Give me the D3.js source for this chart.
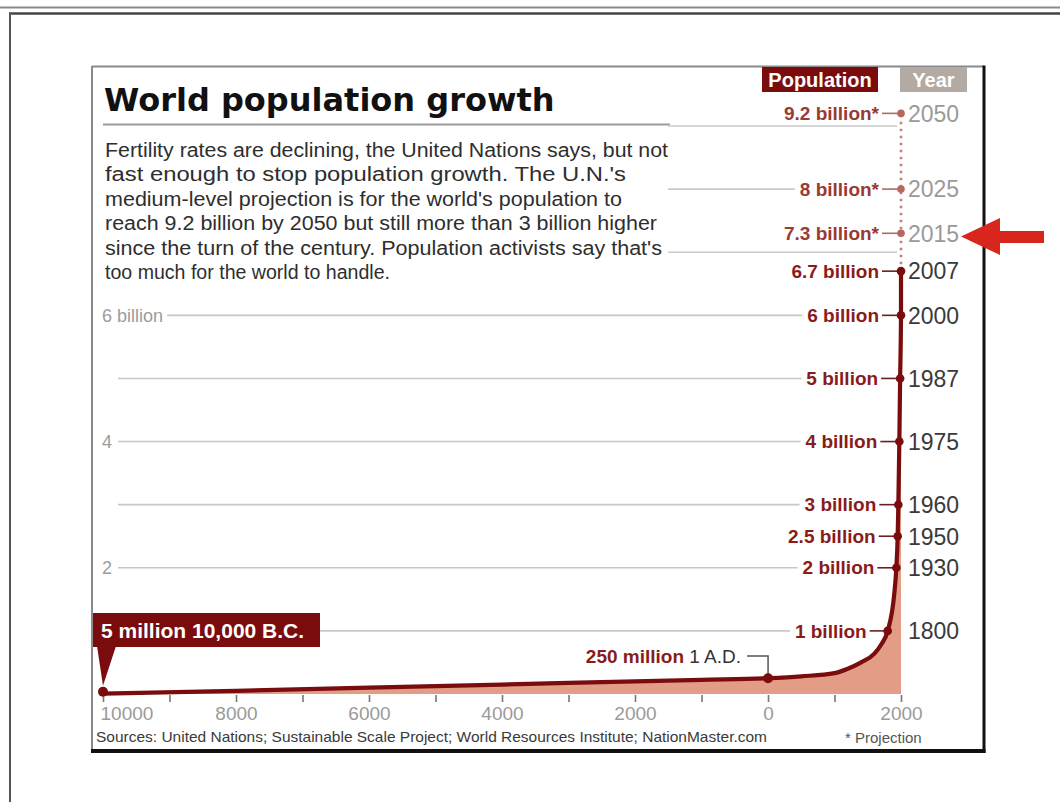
<!DOCTYPE html>
<html>
<head>
<meta charset="utf-8">
<script src="https://cdn.jsdelivr.net/npm/d3@7"></script>
<style>
  html, body { margin: 0; padding: 0; background: #fff; }
  svg { display: block; }
</style>
</head>
<body>
<svg id="chart" width="1060" height="802"></svg>
<script>
// ---------------- DATA ----------------
const curveYears = [-10000, -8000, -6000, -4000, -2000, -1000, 1, 500, 1000, 1200, 1400, 1600, 1700, 1800, 1900, 1930, 1950, 1960, 1975, 1987, 2000, 2007];
const curvePop   = [0.005, 0.05, 0.10, 0.15, 0.20, 0.225, 0.25, 0.28, 0.33, 0.40, 0.50, 0.64, 0.78, 1.0, 1.6, 2.0, 2.5, 3.0, 4.0, 5.0, 6.0, 6.7];

const projYears = [2007, 2015, 2025, 2050];
const projPop   = [6.7, 7.3, 8.0, 9.2];

const markYears  = [2050, 2025, 2015, 2007, 2000, 1987, 1975, 1960, 1950, 1930, 1800];
const markPop    = [9.2, 8, 7.3, 6.7, 6, 5, 4, 3, 2.5, 2, 1];
const markLabels = ["9.2 billion*", "8 billion*", "7.3 billion*", "6.7 billion", "6 billion", "5 billion", "4 billion", "3 billion", "2.5 billion", "2 billion", "1 billion"];

const gridValues = [1, 2, 3, 4, 5, 6, 7, 8, 9];
const leftLabelValues = [6, 4, 2];
const leftLabelTexts  = ["6 billion", "4", "2"];

const xTickValues = [-10000, -9000, -8000, -7000, -6000, -5000, -4000, -3000, -2000, -1000, 0, 1000, 2000];

const titleText = "World population growth";
const bodyLines = [
  "Fertility rates are declining, the United Nations says, but not",
  "fast enough to stop population growth. The U.N.'s",
  "medium-level projection is for the world's population to",
  "reach 9.2 billion by 2050 but still more than 3 billion higher",
  "since the turn of the century. Population activists say that's",
  "too much for the world to handle."
];
const sourcesText = "Sources: United Nations; Sustainable Scale Project; World Resources Institute; NationMaster.com";

// ---------------- STYLE ----------------
const MAROON = "#7a0c0e";
const RED_TXT = "#8a1b1b";
const PROJ_TXT = "#9a3a34";
const FILL = "#e39c86";
const SANS = "'Liberation Sans', Arial, sans-serif";

const svg = d3.select("#chart");

// page frame
svg.append("line").attr("x1", 0).attr("x2", 1060).attr("y1", 7.5).attr("y2", 7.5).attr("stroke", "#8a8a8a").attr("stroke-width", 2);
svg.append("line").attr("x1", 9).attr("x2", 1060).attr("y1", 13.5).attr("y2", 13.5).attr("stroke", "#444").attr("stroke-width", 2.5);
svg.append("line").attr("x1", 10).attr("x2", 10).attr("y1", 13).attr("y2", 802).attr("stroke", "#555").attr("stroke-width", 2);

// inner frame
svg.append("line").attr("x1", 92).attr("x2", 92).attr("y1", 66).attr("y2", 752).attr("stroke", "#8a8a8a").attr("stroke-width", 2);
svg.append("line").attr("x1", 92).attr("x2", 984).attr("y1", 66.5).attr("y2", 66.5).attr("stroke", "#8a8a8a").attr("stroke-width", 2);
svg.append("line").attr("x1", 984).attr("x2", 984).attr("y1", 65.5).attr("y2", 753).attr("stroke", "#111").attr("stroke-width", 3);
svg.append("line").attr("x1", 91).attr("x2", 985.5).attr("y1", 751).attr("y2", 751).attr("stroke", "#111").attr("stroke-width", 4);

// scales
const x = d3.scaleLinear().domain([-10000, 2000]).range([103, 901]).clamp(true);
const y = d3.scaleLinear().domain([0, 9]).range([694, 126]);

// title + body
svg.append("text").attr("x", 104).attr("y", 111)
  .attr("font-family", "'DejaVu Sans', sans-serif").attr("font-weight", "bold").attr("font-size", 32)
  .attr("fill", "#111").text(titleText);
svg.append("line").attr("x1", 103).attr("x2", 670).attr("y1", 124.5).attr("y2", 124.5).attr("stroke", "#9a9a9a").attr("stroke-width", 2);

const bodyEnds = [668, 626, 622, 657, 662, 390];
svg.append("g").selectAll("text").data(bodyLines).join("text")
  .attr("x", 105).attr("y", (d, i) => 157 + i * 24.4)
  .attr("font-family", SANS).attr("font-size", 20).attr("fill", "#2e2e2e")
  .attr("textLength", (d, i) => bodyEnds[i] - 105).attr("lengthAdjust", "spacingAndGlyphs")
  .text(d => d);

// gridlines
const gridG = svg.append("g");
const labelStart = {};
const measure = svg.append("text").attr("font-family", SANS).attr("font-weight", "bold").attr("font-size", 19).attr("opacity", 0);
function textW(t) { measure.text(t); return measure.node().getComputedTextLength(); }
const labelEndX = (yr) => x(yr) - (yr >= 1930 ? 22 : 21);
markYears.forEach((yr, i) => {
  if (Number.isInteger(markPop[i])) labelStart[markPop[i]] = labelEndX(yr) - textW(markLabels[i]);
});
measure.remove();

// left labels
const leftG = svg.append("g");
leftG.selectAll("text").data(leftLabelValues).join("text")
  .attr("x", 102).attr("y", d => y(d)).attr("dy", "0.35em")
  .attr("font-family", SANS).attr("font-size", 18).attr("fill", "#9c9c9c")
  .text((d, i) => leftLabelTexts[i]);
const leftEnd = {};
leftG.selectAll("text").each(function(d) { leftEnd[d] = 102 + this.getComputedTextLength(); });

gridG.selectAll("line").data(gridValues).join("line")
  .attr("x1", d => d >= 7 ? 668 : (d === 6 ? leftEnd[6] + 4 : 118))
  .attr("x2", d => labelStart[d] !== undefined ? labelStart[d] - 5 : 897)
  .attr("y1", d => y(d)).attr("y2", d => y(d))
  .attr("stroke", "#c8c8c8").attr("stroke-width", 1.6);

// area + curve
const pts = curveYears.map((yr, i) => [yr, curvePop[i]]);
const area = d3.area().x(d => x(d[0])).y0(y(0)).y1(d => y(d[1])).curve(d3.curveMonotoneX);
const line = d3.line().x(d => x(d[0])).y(d => y(d[1])).curve(d3.curveMonotoneX);
svg.append("path").datum(pts).attr("d", area).attr("fill", FILL);

// projection dotted line
const proj = projYears.map((yr, i) => [yr, projPop[i]]);
svg.append("path").datum(proj)
  .attr("d", d3.line().x(d => x(d[0])).y(d => y(d[1])))
  .attr("fill", "none").attr("stroke", "#c4837a").attr("stroke-width", 2.6).attr("stroke-dasharray", "2.5,4.5");

svg.append("path").datum(pts).attr("d", line)
  .attr("fill", "none").attr("stroke", MAROON).attr("stroke-width", 4.2).attr("stroke-linejoin", "round");

// x axis
const xAxis = d3.axisBottom(x).tickValues(xTickValues).tickSize(7).tickPadding(5)
  .tickFormat(d => (d % 2000 === 0) ? String(Math.abs(d)) : "");
const ax = svg.append("g").attr("transform", `translate(0,${y(0) + 1})`).call(xAxis);
ax.select(".domain").remove();
ax.selectAll(".tick line").attr("stroke", "#777").attr("stroke-width", 1.6);
ax.selectAll(".tick text").attr("font-family", SANS).attr("font-size", 19).attr("fill", "#9a9a9a");
ax.selectAll(".tick text").filter(d => d === -10000).attr("text-anchor", "start").attr("dx", -3);

// right-side markers
const mk = svg.append("g");
markYears.forEach((yr, i) => {
  const isProj = yr > 2007;
  const cx = x(yr), cy = y(markPop[i]);
  const endX = labelEndX(yr);
  mk.append("line").attr("x1", endX + 3).attr("x2", cx).attr("y1", cy).attr("y2", cy)
    .attr("stroke", isProj ? "#b06a62" : "#6a2020").attr("stroke-width", 1.6);
  mk.append("circle").attr("cx", cx).attr("cy", cy).attr("r", isProj ? 3.8 : 4.3)
    .attr("fill", isProj ? "#b8675e" : MAROON);
  mk.append("text").attr("x", endX).attr("y", cy).attr("dy", "0.35em").attr("text-anchor", "end")
    .attr("font-family", SANS).attr("font-weight", "bold").attr("font-size", 19)
    .attr("fill", isProj ? PROJ_TXT : RED_TXT).text(markLabels[i]);
  mk.append("text").attr("x", 908).attr("y", cy).attr("dy", "0.36em")
    .attr("font-family", SANS).attr("font-size", 23)
    .attr("fill", isProj ? "#9a9a9a" : "#3a3a3a").text(yr);
});

// headers
svg.append("rect").attr("x", 762).attr("y", 67).attr("width", 116).attr("height", 25).attr("fill", MAROON);
svg.append("text").attr("x", 820).attr("y", 87).attr("text-anchor", "middle")
  .attr("font-family", SANS).attr("font-weight", "bold").attr("font-size", 20).attr("fill", "#fff").text("Population");
svg.append("rect").attr("x", 900).attr("y", 67).attr("width", 67).attr("height", 25).attr("fill", "#b3aaa3");
svg.append("text").attr("x", 933.5).attr("y", 87).attr("text-anchor", "middle")
  .attr("font-family", SANS).attr("font-weight", "bold").attr("font-size", 20).attr("fill", "#fff").text("Year");

// 1 A.D. annotation
const adX = x(1), adY = y(0.25);
svg.append("path").attr("d", `M${adX - 21},${656} H${adX} V${adY}`)
  .attr("fill", "none").attr("stroke", "#555").attr("stroke-width", 1.5);
svg.append("circle").attr("cx", adX).attr("cy", adY).attr("r", 5).attr("fill", MAROON);
const adT = svg.append("text").attr("x", adX - 27).attr("y", 663).attr("text-anchor", "end")
  .attr("font-family", SANS).attr("font-size", 19);
adT.append("tspan").attr("font-weight", "bold").attr("fill", RED_TXT).text("250 million ");
adT.append("tspan").attr("fill", "#333").text("1 A.D.");

// 10,000 B.C. annotation
const bcX = x(-10000), bcY = y(0.005);
svg.append("path").attr("d", `M${bcX - 6},646 L${bcX + 13},646 L${bcX},${bcY - 8} Z`).attr("fill", MAROON);
svg.append("rect").attr("x", 93).attr("y", 613).attr("width", 227).attr("height", 34).attr("fill", MAROON);
svg.append("text").attr("x", 101).attr("y", 638)
  .attr("font-family", SANS).attr("font-weight", "bold").attr("font-size", 21).attr("fill", "#fff")
  .text("5 million 10,000 B.C.");
svg.append("circle").attr("cx", bcX).attr("cy", bcY - 2).attr("r", 5).attr("fill", MAROON);

// sources & note
svg.append("text").attr("x", 96).attr("y", 742)
  .attr("font-family", SANS).attr("font-size", 14.5).attr("fill", "#3a3a3a")
  .attr("textLength", 671).attr("lengthAdjust", "spacingAndGlyphs").text(sourcesText);
svg.append("text").attr("x", 845).attr("y", 743)
  .attr("font-family", SANS).attr("font-size", 15).attr("fill", "#555").text("* Projection");

// red arrow
svg.append("path")
  .attr("d", "M961,236.5 L1000,218 L1000,231 L1044,231 L1044,243 L1000,243 L1000,255 Z")
  .attr("fill", "#d8261d");
</script>
</body>
</html>
